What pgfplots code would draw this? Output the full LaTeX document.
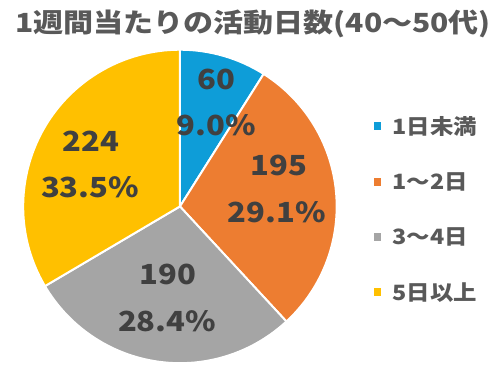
\documentclass[border=0pt]{standalone}
\usepackage{pgfplots}
\pgfplotsset{compat=1.18}
\usepackage{fontspec}
\setmainfont{Noto Sans CJK JP}
\definecolor{c1}{HTML}{0E9DD8}
\definecolor{c2}{HTML}{ED7D31}
\definecolor{c3}{HTML}{A5A5A5}
\definecolor{c4}{HTML}{FFC000}
\definecolor{tt}{HTML}{595959}
\definecolor{lt}{HTML}{404040}
\begin{document}
\begin{tikzpicture}
\begin{axis}[
  width=375pt, height=282pt, scale only axis,
  xmin=0, xmax=500, ymin=0, ymax=376,
  hide axis, clip=false,
]
\path (axis cs:0,0) rectangle (axis cs:500,376);
\pgfplotsextra{
  \pgfmathsetmacro\tot{60+195+190+224}
  \xdef\ang{90}
  \foreach \v/\c in {60/c1,195/c2,190/c3,224/c4}{
    \pgfmathsetmacro\endang{\ang-\v/\tot*360}
    \fill[\c, draw=white, line width=1.5pt] (axis cs:176,167) -- ++(\ang:119pt)
      arc[start angle=\ang, end angle=\endang, radius=119pt] -- cycle;
    \xdef\ang{\endang}
  }
  \foreach \x/\y/\t in {213/296/60, 213/249/9.0\%, 276/208/195, 274/161/29.1\%, 164/98/190, 163/51/28.4\%, 86/233/224, 85/186/33.5\%}{
    \node[font=\bfseries\fontsize{21}{24}\selectfont, text=lt] at (axis cs:\x,\y) {\scalebox{1.12}[1]{\t}};
  }
  \foreach \y/\c/\t in {248/c1/1日未満, 192/c2/1～2日, 136/c3/3～4日, 80/c4/5日以上}{
    \fill[\c] (axis cs:372,\y-4) rectangle (axis cs:380,\y+4);
    \node[anchor=west, font=\bfseries\fontsize{16}{18}\selectfont, text=tt, inner sep=0pt] at (axis cs:391,\y) {\scalebox{1.11}[1]{\t}};
  }
}
\node[font=\bfseries\fontsize{20}{23}\selectfont, text=tt] at (axis cs:250,352) {\scalebox{1.14}[1]{1週間当たりの活動日数(40～50代)}};
\end{axis}
\end{tikzpicture}
\end{document}
